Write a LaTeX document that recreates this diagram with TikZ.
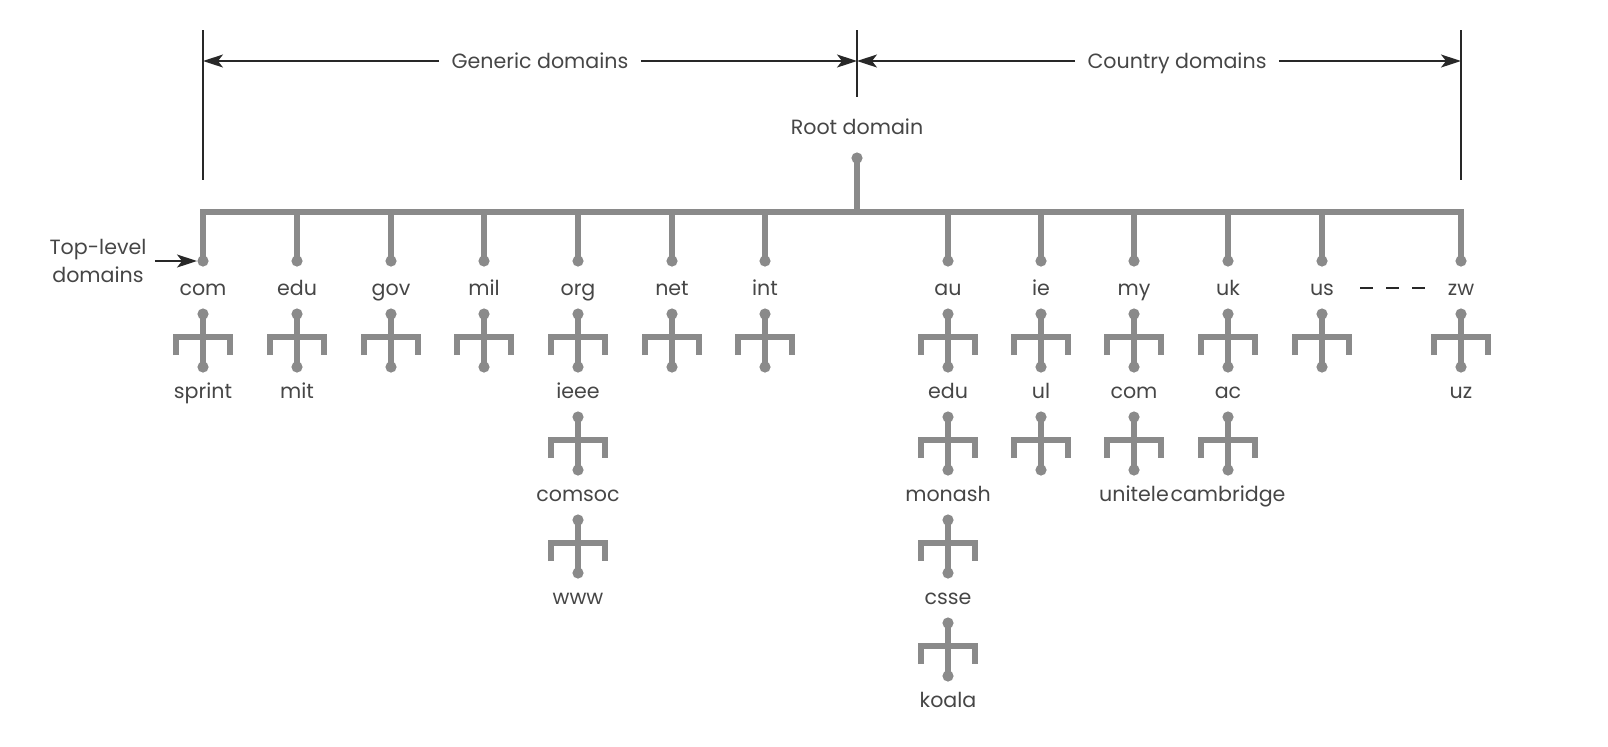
\documentclass[tikz,border=0pt]{standalone}
\usepackage{fontspec}
\setmainfont{Poppins}
\usetikzlibrary{calc,arrows.meta}
\definecolor{treegray}{RGB}{138,138,138}
\definecolor{txtgray}{RGB}{70,70,70}
\definecolor{ink}{RGB}{40,40,40}
\tikzset{
  lbl/.style={font=\fontsize{10.3}{14}\selectfont, text=txtgray, inner sep=0pt, anchor=base},
  branch/.style={draw=treegray, line width=3pt, line join=miter, line cap=butt},
  knob/.style={fill=treegray},
  dim/.style={draw=ink, line width=0.75pt},
  dimarrow/.style={dim, -{Stealth[length=10pt,width=6.5pt,inset=2.5pt]}},
  fork/.pic={
    \draw[branch] (0,0) -- (0,53);
    \draw[branch] (-27,41) -- (-27,23) -- (27,23) -- (27,41);
    \fill[knob] (0,0) circle (2.8pt);
    \fill[knob] (0,53) circle (2.8pt);
  }
}
\newcommand\forkbelow[1]{\pic at ($(#1.base)+(0,19)$) {fork};}
\newcommand\toplevel[1]{%
  \coordinate (#1-dot) at ($(#1.base)+(0,-34)$);
  \draw[branch] (#1 |- bar) -- (#1-dot);
  \fill[knob] (#1-dot) circle (2.8pt);
  \forkbelow{#1}}
\begin{document}
\begin{tikzpicture}[x=0.5pt,y=-0.5pt]
\path[use as bounding box] (0,0) rectangle (1608,746);

% span markers
\coordinate (tL) at (203,30);  \coordinate (bL) at (203,180);
\coordinate (tM) at (857,30);  \coordinate (bM) at (857,97);
\coordinate (tR) at (1461,30); \coordinate (bR) at (1461,180);
\draw[dim] (tL) -- (bL);
\draw[dim] (tM) -- (bM);
\draw[dim] (tR) -- (bR);
\coordinate (aL) at (203,61); \coordinate (aM) at (857,61); \coordinate (aR) at (1461,61);
\node[lbl, inner xsep=6pt] (gen) at (540,68) {Generic domains};
\node[lbl, inner xsep=6pt] (cty) at (1177,68) {Country domains};
\draw[dimarrow] (gen.west |- aL) -- (aL);
\draw[dimarrow] (gen.east |- aL) -- (aM);
\draw[dimarrow] (cty.west |- aL) -- (aM);
\draw[dimarrow] (cty.east |- aL) -- (aR);

% root
\node[lbl] (root) at (857,134) {Root domain};
\coordinate (bar) at (857,212);
\coordinate (root-dot) at ($(root.base)+(0,24)$);
\draw[branch] (root-dot) -- (bar);
\fill[knob] (root-dot) circle (2.8pt);

% top-level labels
\node[lbl] (com) at (203,295) {com};
\node[lbl] (edu) at (297,295) {edu};
\node[lbl] (gov) at (391,295) {gov};
\node[lbl] (mil) at (484,295) {mil};
\node[lbl] (org) at (578,295) {org};
\node[lbl] (net) at (672,295) {net};
\node[lbl] (int) at (765,295) {int};
\node[lbl] (au) at (948,295) {au};
\node[lbl] (ie) at (1041,295) {ie};
\node[lbl] (my) at (1134,295) {my};
\node[lbl] (uk) at (1228,295) {uk};
\node[lbl] (us) at (1322,295) {us};
\node[lbl] (zw) at (1461,295) {zw};

\coordinate (com-dot) at ($(com.base)+(0,-34)$);
\coordinate (zw-dot) at ($(zw.base)+(0,-34)$);
\draw[branch] (com-dot) -- (com |- bar) -- (zw |- bar) -- (zw-dot);
\foreach \t in {com,edu,gov,mil,org,net,int,au,ie,my,uk,us,zw}{\toplevel{\t}}

\draw[dim, dash pattern=on 6.5pt off 6.5pt] ($(us.base)+(38,-7)$) -- ($(zw.base)+(-36,-7)$);

% Top-level domains pointer
\node[lbl, align=center] (tld) at (98,282) {Top-level\\domains};
\draw[dimarrow, shorten <=4pt] (tld.east |- com-dot) -- ($(com-dot)+(-6,0)$);

% second level
\node[lbl] (sprint) at (203,398) {sprint};
\node[lbl] (mit) at (297,398) {mit};
\node[lbl] (ieee) at (578,398) {ieee};
\node[lbl] (auedu) at (948,398) {edu};
\node[lbl] (ul) at (1041,398) {ul};
\node[lbl] (mycom) at (1134,398) {com};
\node[lbl] (ac) at (1228,398) {ac};
\node[lbl] (uz) at (1461,398) {uz};
\foreach \t in {ieee,auedu,ul,mycom,ac}{\forkbelow{\t}}

% third level
\node[lbl] (comsoc) at (578,501) {comsoc};
\node[lbl] (monash) at (948,501) {monash};
\node[lbl] (unitele) at (1134,501) {unitele};
\node[lbl] (cambridge) at (1228,501) {cambridge};
\forkbelow{comsoc}
\forkbelow{monash}

% fourth level
\node[lbl] (www) at (578,604) {www};
\node[lbl] (csse) at (948,604) {csse};
\forkbelow{csse}

% fifth level
\node[lbl] (koala) at (948,707) {koala};
\end{tikzpicture}
\end{document}
